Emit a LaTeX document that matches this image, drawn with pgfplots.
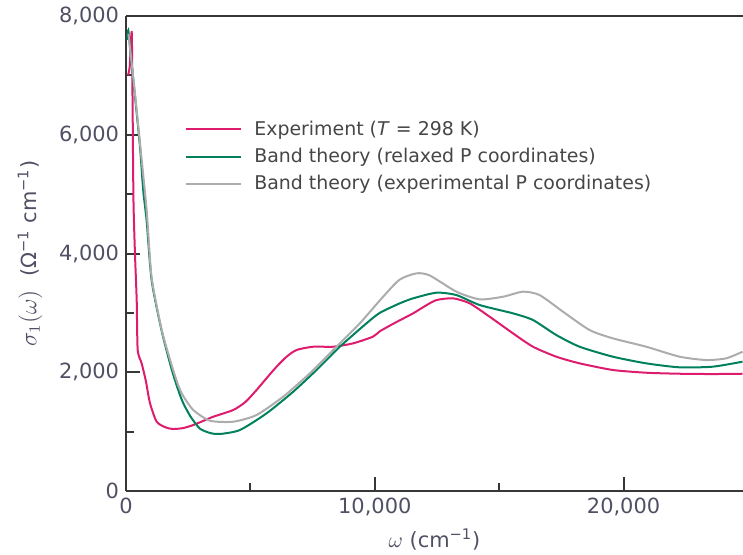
\documentclass[border=0pt]{standalone}
\usepackage{fontspec}
\setmainfont{DejaVu Sans}
\usepackage{pgfplots}
\pgfplotsset{compat=1.18}
\definecolor{expc}{RGB}{222,28,110}
\definecolor{relc}{RGB}{0,128,92}
\definecolor{expPc}{RGB}{172,172,172}
\definecolor{axisc}{RGB}{55,55,55}
\definecolor{tickc}{RGB}{80,80,100}
\definecolor{legc}{RGB}{70,70,70}
\begin{document}
\begin{tikzpicture}
\useasboundingbox (-63bp,-32bp) rectangle (308.5bp,245.5bp);
\begin{axis}[
  scale only axis, width=308.5bp, height=237.5bp,
  xmin=0, xmax=24800, ymin=0, ymax=8000,
  axis x line*=bottom, axis y line*=left,
  axis line style={line width=1bp, color=axisc},
  every tick/.style={line width=1bp, color=axisc},
  xtick={0,10000,20000}, minor xtick={5000,15000},
  ytick={0,2000,4000,6000,8000}, minor ytick={1000,3000,5000,7000},
  tick align=inside,
  major tick length=7bp, minor tick length=4bp,
  scaled ticks=false,
  /pgf/number format/.cd, 1000 sep={,}, assume math mode=true, /pgfplots/.cd,
  ticklabel style={font=\fontsize{10.5}{12}\selectfont, color=tickc},
  xlabel={$\omega$ (cm\textsuperscript{−1})},
  ylabel={{\large$\sigma_1(\omega)$}\ \ (Ω\textsuperscript{−1} cm\textsuperscript{−1})},
  label style={font=\fontsize{10.5}{12}\selectfont, color=tickc},
  xlabel style={at={(axis description cs:0.5,-0.103)}, anchor=center},
  ylabel style={at={(axis description cs:-0.1556,0.5)}, anchor=center},
  clip=false,
  legend style={at={(axis description cs:0.0956,0.789)}, anchor=north west,
    draw=none, fill=none, inner sep=0pt,
    font=\fontsize{9.5}{11}\selectfont, text=legc, row sep=1bp,
    cells={anchor=west},
    /tikz/every odd column/.append style={column sep=4bp}},
  legend image code/.code={\draw[#1, line width=1bp] (0bp,0bp) -- (27.5bp,0bp);},
]
\addplot[expc, line width=1bp, smooth, tension=0.4] coordinates {
(80,7000) (150,7150) (230,7730) (265,6500) (300,4900) (360,4000) (430,3216)
(470,2375) (630,2150) (800,1850) (964,1480) (1232,1167) (1600,1070) (1900,1044)
(2300,1060) (2704,1111) (3100,1180) (3507,1251) (4310,1364) (4800,1500)
(5248,1701) (5650,1900) (6051,2093) (6450,2260) (6855,2375) (7520,2430)
(8327,2430) (9130,2487) (9930,2600) (10200,2690) (10800,2830) (11540,2992)
(12000,3110) (12478,3216) (13145,3245) (13815,3161) (14618,2935) (15555,2655)
(16357,2430) (17296,2262) (18232,2150) (19570,2038) (20910,1992) (22250,1975)
(23587,1970) (24780,1975)
};
\addlegendentry{Experiment (\textit{T} = 298 K)}
\addplot[relc, line width=1bp, smooth, tension=0.4] coordinates {
(50,7600) (93,7760) (200,7300) (360,6650) (562,5800) (695,5050) (830,4550)
(1030,3550) (1432,2700) (1835,2050) (2100,1700) (2300,1480) (2600,1250)
(2972,1050) (3400,975) (3775,960) (4578,1027) (5650,1308) (6720,1672)
(7658,2038) (8594,2430) (9666,2824) (10200,3000) (11000,3160) (11540,3245)
(12478,3340) (13280,3300) (14216,3132) (15555,2992) (16357,2880) (17296,2627)
(18232,2430) (19570,2262) (20910,2150) (22250,2083) (23587,2094) (24780,2178)
};
\addlegendentry{Band theory (relaxed P coordinates)}
\addplot[expPc, line width=1bp, smooth, tension=0.4] coordinates {
(100,7700) (360,6700) (562,5860) (830,4730) (1030,3600) (1432,2720) (1835,2120)
(2100,1780) (2300,1600) (2704,1364) (3374,1184) (4310,1167) (5248,1280)
(6317,1588) (7390,1982) (8327,2375) (9398,2824) (10333,3272) (11000,3560)
(11675,3666) (12210,3630) (13280,3357) (14216,3228) (15153,3272) (15956,3357)
(16626,3300) (17563,3020) (18634,2711) (19570,2571) (20910,2430) (22250,2262)
(23320,2206) (24120,2234) (24780,2346)
};
\addlegendentry{Band theory (experimental P coordinates)}
\end{axis}
\draw[axisc, line width=1bp] (current axis.north west) -- (current axis.north east);
\end{tikzpicture}
\end{document}
